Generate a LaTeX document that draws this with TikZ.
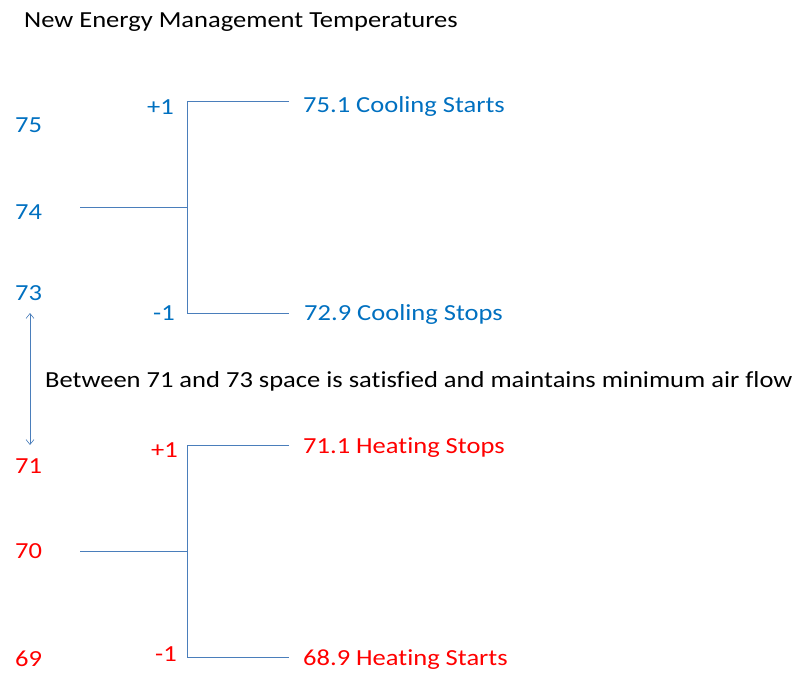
\documentclass[tikz,border=0pt]{standalone}
\usepackage{fontspec}
\setmainfont{Carlito}[FakeStretch=1.153,Ligatures=NoCommon]
\usetikzlibrary{arrows.meta}
\definecolor{tblue}{RGB}{0,112,192}
\definecolor{tred}{RGB}{255,0,0}
\definecolor{tline}{RGB}{74,126,187}
\begin{document}
\begin{tikzpicture}[x=1pt,y=-1pt,
  lbl/.style={anchor=base west,inner sep=0pt,font=\fontsize{23}{26}\selectfont},
  bl/.style={lbl,text=tblue},
  rd/.style={lbl,text=tred},
  bk/.style={lbl,text=black},
  conn/.style={draw=tline,line width=0.8pt}]
\useasboundingbox (0,0) rectangle (802,692);
% title
\node[bk] (title) at (24,27.5) {New Energy Management Temperatures};
% upper scale
\node[bl] (t75) at (15,132.5) {75};
\node[bl] (t74) at (15,219.5) {74};
\node[bl] (t73) at (15,300.5) {73};
\node[bl] (up1) at (147,114.5) {+1};
\node[bl] (um1) at (153,320.5) {-1};
\node[bl] (cs) at (303,112.5) {75.1 Cooling Starts};
\node[bl] (cp) at (304,320.5) {72.9 Cooling Stops};
\coordinate (uin) at (80,207);
\coordinate (uj) at (187,207);
\coordinate (ut) at (187,101);
\coordinate (ub) at (187,313);
\coordinate (ute) at (289,101);
\coordinate (ube) at (289,313);
\draw[conn] (uin) -- (uj);
\draw[conn] (ute) -- (ut) -- (ub) -- (ube);
% arrow and middle text
\coordinate (atop) at (30,313);
\coordinate (abot) at (30,445);
\draw[draw=tline,line width=0.6pt,{Straight Barb[length=5pt,width=8pt]}-{Straight Barb[length=5pt,width=8pt]}] (atop) -- (abot);
\node[bk] (mid) at (45,387.5) {Between 71 and 73 space is satisfied and maintains minimum air flow};
% lower scale
\node[rd] (t71) at (15,473.5) {71};
\node[rd] (t70) at (15,558.5) {70};
\node[rd] (t69) at (15,666.5) {69};
\node[rd] (lp1) at (151,457.5) {+1};
\node[rd] (lm1) at (155,661.5) {-1};
\node[rd] (hs) at (303,453.5) {71.1 Heating Stops};
\node[rd] (ha) at (303,665.5) {68.9 Heating Starts};
\coordinate (lin) at (80,551);
\coordinate (lj) at (187,551);
\coordinate (lt) at (187,445);
\coordinate (lb) at (187,657);
\coordinate (lte) at (289,445);
\coordinate (lbe) at (289,657);
\draw[conn] (lin) -- (lj);
\draw[conn] (lte) -- (lt) -- (lb) -- (lbe);
\end{tikzpicture}
\end{document}
